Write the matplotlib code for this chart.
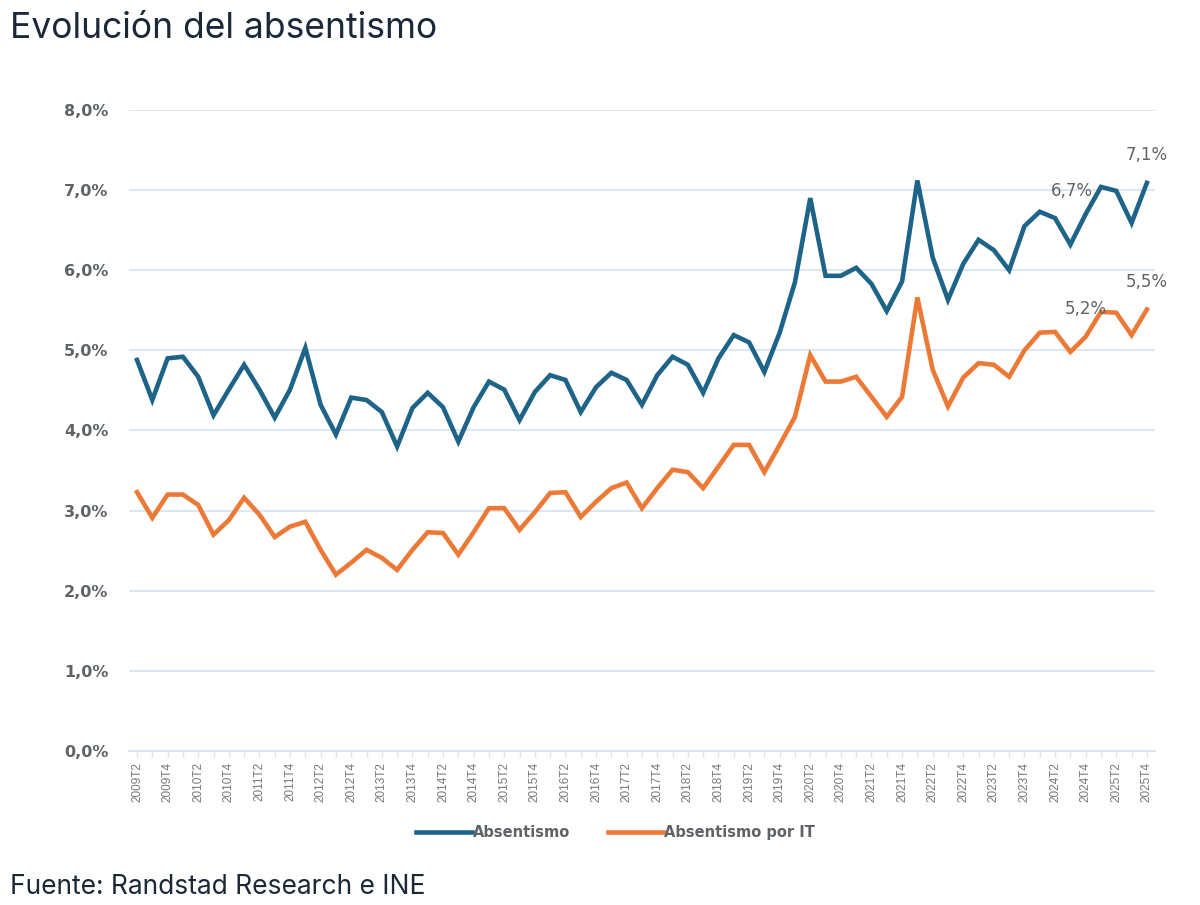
import matplotlib.pyplot as plt
from matplotlib.ticker import FuncFormatter

# quarters 2009T2 .. 2025T4
years = list(range(2009, 2026))
quarters = [f'{y}T{q}' for y in years for q in range(1, 5)][1:]

absentismo = [4.88, 4.38, 4.90, 4.92, 4.67, 4.19, 4.51, 4.82, 4.51, 4.16,
              4.51, 5.03, 4.32, 3.95, 4.41, 4.38, 4.23, 3.80, 4.28, 4.47,
              4.29, 3.86, 4.29, 4.61, 4.51, 4.13, 4.48, 4.69, 4.63, 4.23,
              4.54, 4.72, 4.63, 4.32, 4.69, 4.92, 4.82, 4.47, 4.90, 5.19,
              5.10, 4.73, 5.22, 5.85, 6.90, 5.93, 5.93, 6.03, 5.83, 5.49,
              5.86, 7.12, 6.16, 5.63, 6.08, 6.38, 6.25, 6.00, 6.55, 6.73,
              6.65, 6.32, 6.70, 7.04, 6.99, 6.59, 7.09]

absentismo_it = [3.23, 2.91, 3.20, 3.20, 3.07, 2.70, 2.88, 3.16, 2.95, 2.67,
                 2.80, 2.86, 2.51, 2.20, 2.35, 2.51, 2.41, 2.26, 2.51, 2.73,
                 2.72, 2.45, 2.73, 3.03, 3.03, 2.76, 2.98, 3.22, 3.23, 2.92,
                 3.11, 3.28, 3.35, 3.03, 3.28, 3.51, 3.48, 3.28, 3.55, 3.82,
                 3.82, 3.48, 3.82, 4.17, 4.94, 4.61, 4.61, 4.67, 4.42, 4.17,
                 4.42, 5.66, 4.76, 4.30, 4.66, 4.84, 4.82, 4.67, 5.00, 5.22,
                 5.23, 4.98, 5.17, 5.48, 5.47, 5.19, 5.51]

# labelled points: 2024T4 and last quarter
labelled = ['2024T4', '2025T4']

blue = '#1E6488'
orange = '#EC7A36'
grey = '#5f6368'

fig = plt.figure(figsize=(12, 9.05), dpi=100)
ax = fig.add_axes([0.1078, 0.1702, 0.8543, 0.7083])

x = list(range(len(quarters)))
ax.plot(x, absentismo, color=blue, lw=3.3, label='Absentismo', solid_joinstyle='miter')
ax.plot(x, absentismo_it, color=orange, lw=3.3, label='Absentismo por IT', solid_joinstyle='miter')

ax.set_xlim(-0.5, len(quarters) - 0.5)
ax.set_ylim(0, 8)
ax.set_yticks(range(0, 9))
ax.yaxis.set_major_formatter(FuncFormatter(lambda v, p: f'{v:.1f}%'.replace('.', ',')))
ax.grid(axis='y', color='#dde7f1', lw=1.4)
ax.set_axisbelow(True)

ax.set_xticks(x)
ax.set_xticklabels([q if i % 2 == 0 else '' for i, q in enumerate(quarters)],
                   rotation=90, fontsize=8.5, color='#777777', family='Liberation Sans')
ax.tick_params(axis='x', length=4, width=1, color='#dde3ea', pad=4)
ax.tick_params(axis='y', length=0, pad=15, labelsize=11.5, labelcolor=grey)
for lbl in ax.get_yticklabels():
    lbl.set_fontweight('semibold')

for s in ['top', 'right', 'left']:
    ax.spines[s].set_visible(False)
ax.spines['bottom'].set_color('#dde7f1')
ax.spines['bottom'].set_linewidth(1.4)

# value labels
i1, i2 = quarters.index(labelled[0]), quarters.index(labelled[1])
fmt = lambda v: f'{v:.1f}%'.replace('.', ',')
ax.annotate(fmt(absentismo[i1]), (i1, absentismo[i1]), xytext=(-10, 17), textcoords='offset points',
            ha='center', va='center', fontsize=12, color=grey, fontweight='medium')
ax.annotate(fmt(absentismo[i2]), (i2, absentismo[i2]), xytext=(0, 20), textcoords='offset points',
            ha='center', va='center', fontsize=12, color=grey, fontweight='medium')
ax.annotate(fmt(absentismo_it[i1]), (i1, absentismo_it[i1]), xytext=(0, 20), textcoords='offset points',
            ha='center', va='center', fontsize=12, color=grey, fontweight='medium')
ax.annotate(fmt(absentismo_it[i2]), (i2, absentismo_it[i2]), xytext=(0, 20), textcoords='offset points',
            ha='center', va='center', fontsize=12, color=grey, fontweight='medium')

leg = fig.legend(loc='center', bbox_to_anchor=(0.513, 0.080), ncol=2, frameon=False,
                 handlelength=3.8, handletextpad=0.05, columnspacing=2.6,
                 prop={'size': 10.5, 'weight': 'semibold'})
for t in leg.get_texts():
    t.set_color(grey)

fig.text(0.008, 0.969, 'Evolución del absentismo', fontsize=25.5, color='#1b2838',
         ha='left', va='center', family='Inter')
fig.text(0.008, 0.020, 'Fuente: Randstad Research e INE', fontsize=19, color='#1b2838',
         ha='left', va='center', family='Inter')

plt.savefig('out.png', facecolor='w', dpi=100)
